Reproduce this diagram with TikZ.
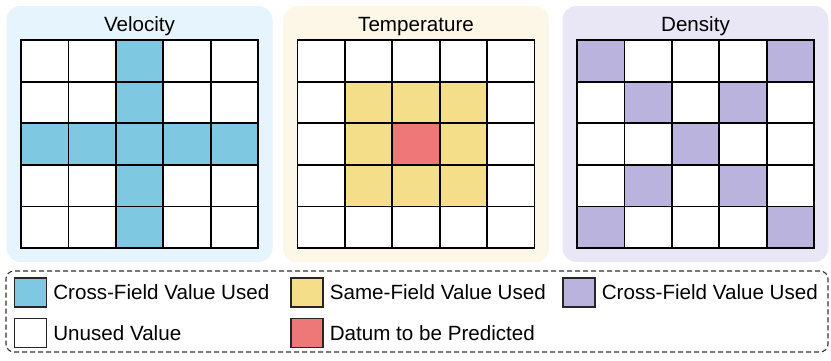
\documentclass[tikz,border=0pt]{standalone}
\usepackage{fontspec}
\setmainfont{Liberation Sans}
\usepackage{xcolor}
\usepackage{tikz}
\usetikzlibrary{positioning}
\definecolor{velback}{RGB}{230,244,253}
\definecolor{tmpback}{RGB}{253,247,231}
\definecolor{denback}{RGB}{233,230,246}
\definecolor{velblue}{RGB}{126,200,226}
\definecolor{tmpyellow}{RGB}{245,222,138}
\definecolor{tmpred}{RGB}{238,120,120}
\definecolor{denpurple}{RGB}{185,179,222}

\begin{document}
\begin{tikzpicture}[
            x=1pt, y=-1pt,
            font=\fontsize{20.6}{24}\selectfont,
            panel/.style={rectangle, rounded corners=14pt, minimum width=266pt, minimum height=256pt, inner sep=0pt},
            title/.style={inner sep=0pt, anchor=base},
            cell/.style={rectangle, draw=black, line width=1.8pt, minimum width=47.4pt, minimum height=41.6pt, inner sep=0pt},
            legendbox/.style={rectangle, draw=black!80, line width=1.1pt, dash pattern=on 5pt off 3pt, rounded corners=8pt, minimum width=822pt, minimum height=81pt},
            swatch/.style={rectangle, draw=black!85, line width=1.3pt, minimum width=32pt, minimum height=29pt, inner sep=0pt},
            entry/.style={inner sep=0pt, anchor=west}
        ]
            \useasboundingbox (0,0) rectangle (831,360);

% Panels
            \foreach \name/\cx/\bg/\txt in {vel/139.5/velback/Velocity, tmp/416/tmpback/Temperature, den/695.5/denback/Density} {
                \node[panel, fill=\bg] (\name) at (\cx,134) {};
                \node[title] (\name-title) at (\cx,31) {\txt};
            }

% Grids
            \foreach \r in {1,...,5}
                \foreach \c in {1,...,5} {
                    \pgfmathtruncatemacro{\used}{or(\r==3,\c==3)}
                    \ifnum\used=1 \def\cellfill{velblue}\else\def\cellfill{white}\fi
                    \node[cell, fill=\cellfill] (vel-\r-\c) at ({21+(\c-0.5)*47.4}, {40+(\r-0.5)*41.6}) {};
                }
            \foreach \r in {1,...,5}
                \foreach \c in {1,...,5} {
                    \pgfmathtruncatemacro{\ring}{max(abs(\r-3),abs(\c-3))}
                    \ifcase\ring \def\cellfill{tmpred}\or \def\cellfill{tmpyellow}\else \def\cellfill{white}\fi
                    \node[cell, fill=\cellfill] (tmp-\r-\c) at ({297.5+(\c-0.5)*47.4}, {40+(\r-0.5)*41.6}) {};
                }
            \foreach \r in {1,...,5}
                \foreach \c in {1,...,5} {
                    \pgfmathtruncatemacro{\used}{or(\r==\c,\r+\c==6)}
                    \ifnum\used=1 \def\cellfill{denpurple}\else\def\cellfill{white}\fi
                    \node[cell, fill=\cellfill] (den-\r-\c) at ({577+(\c-0.5)*47.4}, {40+(\r-0.5)*41.6}) {};
                }

% Legend
            \node[legendbox] (legend) at (417,311.5) {};
            \node[swatch, fill=velblue] (keyvel) at (30.5,292.5) {};
            \node[swatch, fill=tmpyellow] (keytmp) at (307,292.5) {};
            \node[swatch, fill=denpurple] (keyden) at (579,292.5) {};
            \node[swatch, fill=white, below=10pt of keyvel] (keyunused) {};
            \node[swatch, fill=tmpred, below=10pt of keytmp] (keypred) {};
            \node[entry, right=6pt of keyvel] (textvel) {Cross-Field Value Used};
            \node[entry, right=6pt of keytmp] (texttmp) {Same-Field Value Used};
            \node[entry, right=6pt of keyden] (textden) {Cross-Field Value Used};
            \node[entry, right=6pt of keyunused] (textunused) {Unused Value};
            \node[entry, right=6pt of keypred] (textpred) {Datum to be Predicted};

        \end{tikzpicture}
\end{document}
